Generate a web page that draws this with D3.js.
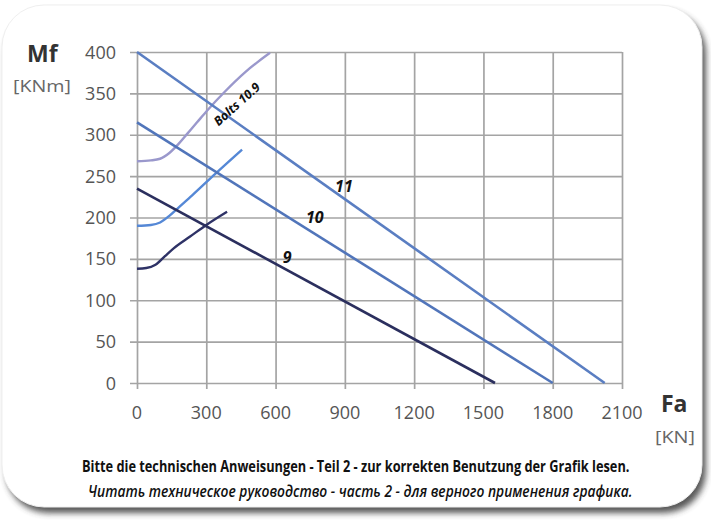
<!DOCTYPE html>
<html>
<head>
<meta charset="utf-8">
<script src="https://cdn.jsdelivr.net/npm/d3@7"></script>
<style>
  html, body { margin: 0; padding: 0; background: #ffffff; }
  svg { display: block; }
  .gridAxis .domain { display: none; }
  .gridAxis .tick line { stroke: #a4a4a4; stroke-width: 1.7px; }
  .gridAxis .tick text { display: none; }
</style>
</head>
<body>
<svg id="chart" width="711" height="522"></svg>
<script>
// Axis ticks
const xTicks = [0, 300, 600, 900, 1200, 1500, 1800, 2100];
const yTicks = [0, 50, 100, 150, 200, 250, 300, 350, 400];

// Load lines Mf(Fa) for slewing ring sizes 9, 10, 11
const lineNames = ["9", "10", "11"];
const lineFa = [[0, 1550], [0, 1800], [0, 2025]];
const lineMf = [[235, 0], [315, 0], [400, 0]];

// Bolt limit curves (class 10.9) for the three sizes
const boltFa9  = [0, 40, 80, 120, 160, 230, 300, 390];
const boltMf9  = [138, 139, 143, 153, 163, 177, 191, 207];
const boltFa10 = [0, 60, 100, 140, 180, 240, 340, 455];
const boltMf10 = [190, 191, 194, 202, 212, 227, 253, 282];
const boltFa11 = [0, 60, 100, 140, 180, 220, 260, 303, 380, 470, 576];
const boltMf11 = [268, 269, 271, 278, 289, 302, 315, 329, 352, 376, 399];

const svg = d3.select("#chart");

// Card shadow: a dark rounded rect, blurred, under the white card
const defs = svg.append("defs");
defs.append("filter").attr("id", "soft")
  .attr("x", -0.05).attr("y", -0.05).attr("width", 1.1).attr("height", 1.1)
  .append("feGaussianBlur").attr("stdDeviation", 3);

svg.append("rect")
  .attr("x", 6).attr("y", 11).attr("width", 700).attr("height", 502)
  .attr("rx", 42).attr("ry", 42)
  .attr("fill", "#3a3a3a").attr("opacity", 0.85)
  .attr("filter", "url(#soft)");
svg.append("rect")
  .attr("x", 2).attr("y", 5).attr("width", 700).attr("height", 502)
  .attr("rx", 42).attr("ry", 42)
  .attr("fill", "#ffffff")
  .attr("stroke", "#efefef").attr("stroke-width", 1);

const x = d3.scaleLinear().domain([0, 2100]).range([137, 622]);
const y = d3.scaleLinear().domain([0, 400]).range([383, 52]);

// Grid from the axes' tick lines (extending a little past the plot)
svg.append("g").attr("class", "gridAxis")
  .attr("transform", `translate(${x(2100)},0)`)
  .call(d3.axisLeft(y).tickValues(yTicks).tickSize(x(2100) - x(0) + 7).tickSizeOuter(0));
svg.append("g").attr("class", "gridAxis")
  .attr("transform", `translate(0,${y(0) + 6})`)
  .call(d3.axisTop(x).tickValues(xTicks).tickSize(y(0) + 6 - y(400)).tickSizeOuter(0));

// Tick labels
const tickFont = "'Open Sans', sans-serif";
const labels = svg.append("g").attr("font-family", tickFont)
  .attr("font-size", 18).attr("fill", "#555");
yTicks.forEach(t => {
  labels.append("text")
    .attr("x", 116).attr("y", y(t) + 6.5)
    .attr("text-anchor", "end").text(t);
});
xTicks.forEach(t => {
  labels.append("text")
    .attr("x", x(t)).attr("y", 419)
    .attr("text-anchor", "middle").text(t);
});

// Squeeze a text horizontally so it spans the given width
function fitWidth(sel, width, anchorX) {
  const w = sel.node().getComputedTextLength();
  const k = width / w;
  sel.attr("transform", `translate(${anchorX},0) scale(${k},1) translate(${-anchorX},0)`);
}

// Axis titles
svg.append("text").attr("x", 27).attr("y", 62)
  .attr("font-family", "'Open Sans', sans-serif").attr("font-weight", "bold")
  .attr("font-size", 23).attr("fill", "#333").text("Mf");
const kNm = svg.append("text").attr("x", 13).attr("y", 92)
  .attr("font-family", tickFont).attr("font-size", 16)
  .attr("fill", "#666").text("[KNm]");
fitWidth(kNm, 58, 13);
svg.append("text").attr("x", 661).attr("y", 412)
  .attr("font-family", "'Open Sans', sans-serif").attr("font-weight", "bold")
  .attr("font-size", 23).attr("fill", "#333").text("Fa");
const kN = svg.append("text").attr("x", 655).attr("y", 443)
  .attr("font-family", tickFont).attr("font-size", 16)
  .attr("fill", "#666").text("[KN]");
fitWidth(kN, 40, 655);

const straight = d3.line().x(d => x(d[0])).y(d => y(d[1]));
const smooth = d3.line().x(d => x(d[0])).y(d => y(d[1])).curve(d3.curveMonotoneX);

// Bolt curves
const bolts = [
  { fa: boltFa11, mf: boltMf11, color: "#9a98cc" },
  { fa: boltFa10, mf: boltMf10, color: "#5588d6" },
  { fa: boltFa9,  mf: boltMf9,  color: "#2e3266" }
];
const marks = svg.append("g");
bolts.forEach(b => {
  marks.append("path")
    .datum(b.fa.map((v, i) => [v, b.mf[i]]))
    .attr("d", smooth)
    .attr("fill", "none").attr("stroke", b.color).attr("stroke-width", 2.4);
});

// Load lines
const lineColors = ["#2b2f5e", "#5175ba", "#5a7ec2"];
lineNames.forEach((n, i) => {
  marks.append("path")
    .datum(lineFa[i].map((v, j) => [v, lineMf[i][j]]))
    .attr("d", straight)
    .attr("fill", "none").attr("stroke", lineColors[i]).attr("stroke-width", 2.6);
});

// Line labels
const labelPos = [[650, 145], [770, 193.5], [896, 231]];
lineNames.forEach((n, i) => {
  marks.append("text")
    .attr("x", x(labelPos[i][0])).attr("y", y(labelPos[i][1]))
    .attr("text-anchor", "middle")
    .attr("font-family", "'Open Sans', sans-serif")
    .attr("font-weight", "bold").attr("font-style", "italic")
    .attr("font-size", 16).attr("fill", "#111").text(n);
});

// Bolt curve label
marks.append("text")
  .attr("transform", `translate(${x(445)},${y(333)}) rotate(-42)`)
  .attr("text-anchor", "middle")
  .attr("font-family", "'Open Sans', sans-serif")
  .attr("font-weight", "bold").attr("font-style", "italic")
  .attr("font-size", 12.5).attr("fill", "#111").text("Bolts 10.9");

// Footnote
const note1 = svg.append("text").attr("x", 82).attr("y", 472)
  .attr("font-family", "'Open Sans', sans-serif").attr("font-weight", "bold")
  .attr("font-size", 16).attr("fill", "#111")
  .text("Bitte die technischen Anweisungen  - Teil 2 - zur korrekten Benutzung der Grafik lesen.");
fitWidth(note1, 548, 82);
const note2 = svg.append("text").attr("x", 88).attr("y", 497)
  .attr("font-family", "'Open Sans', sans-serif").attr("font-style", "italic")
  .attr("font-weight", 600)
  .attr("font-size", 16).attr("fill", "#111")
  .text("Читать техническое руководство - часть 2 - для верного применения графика.");
fitWidth(note2, 545, 88);
</script>
</body>
</html>
